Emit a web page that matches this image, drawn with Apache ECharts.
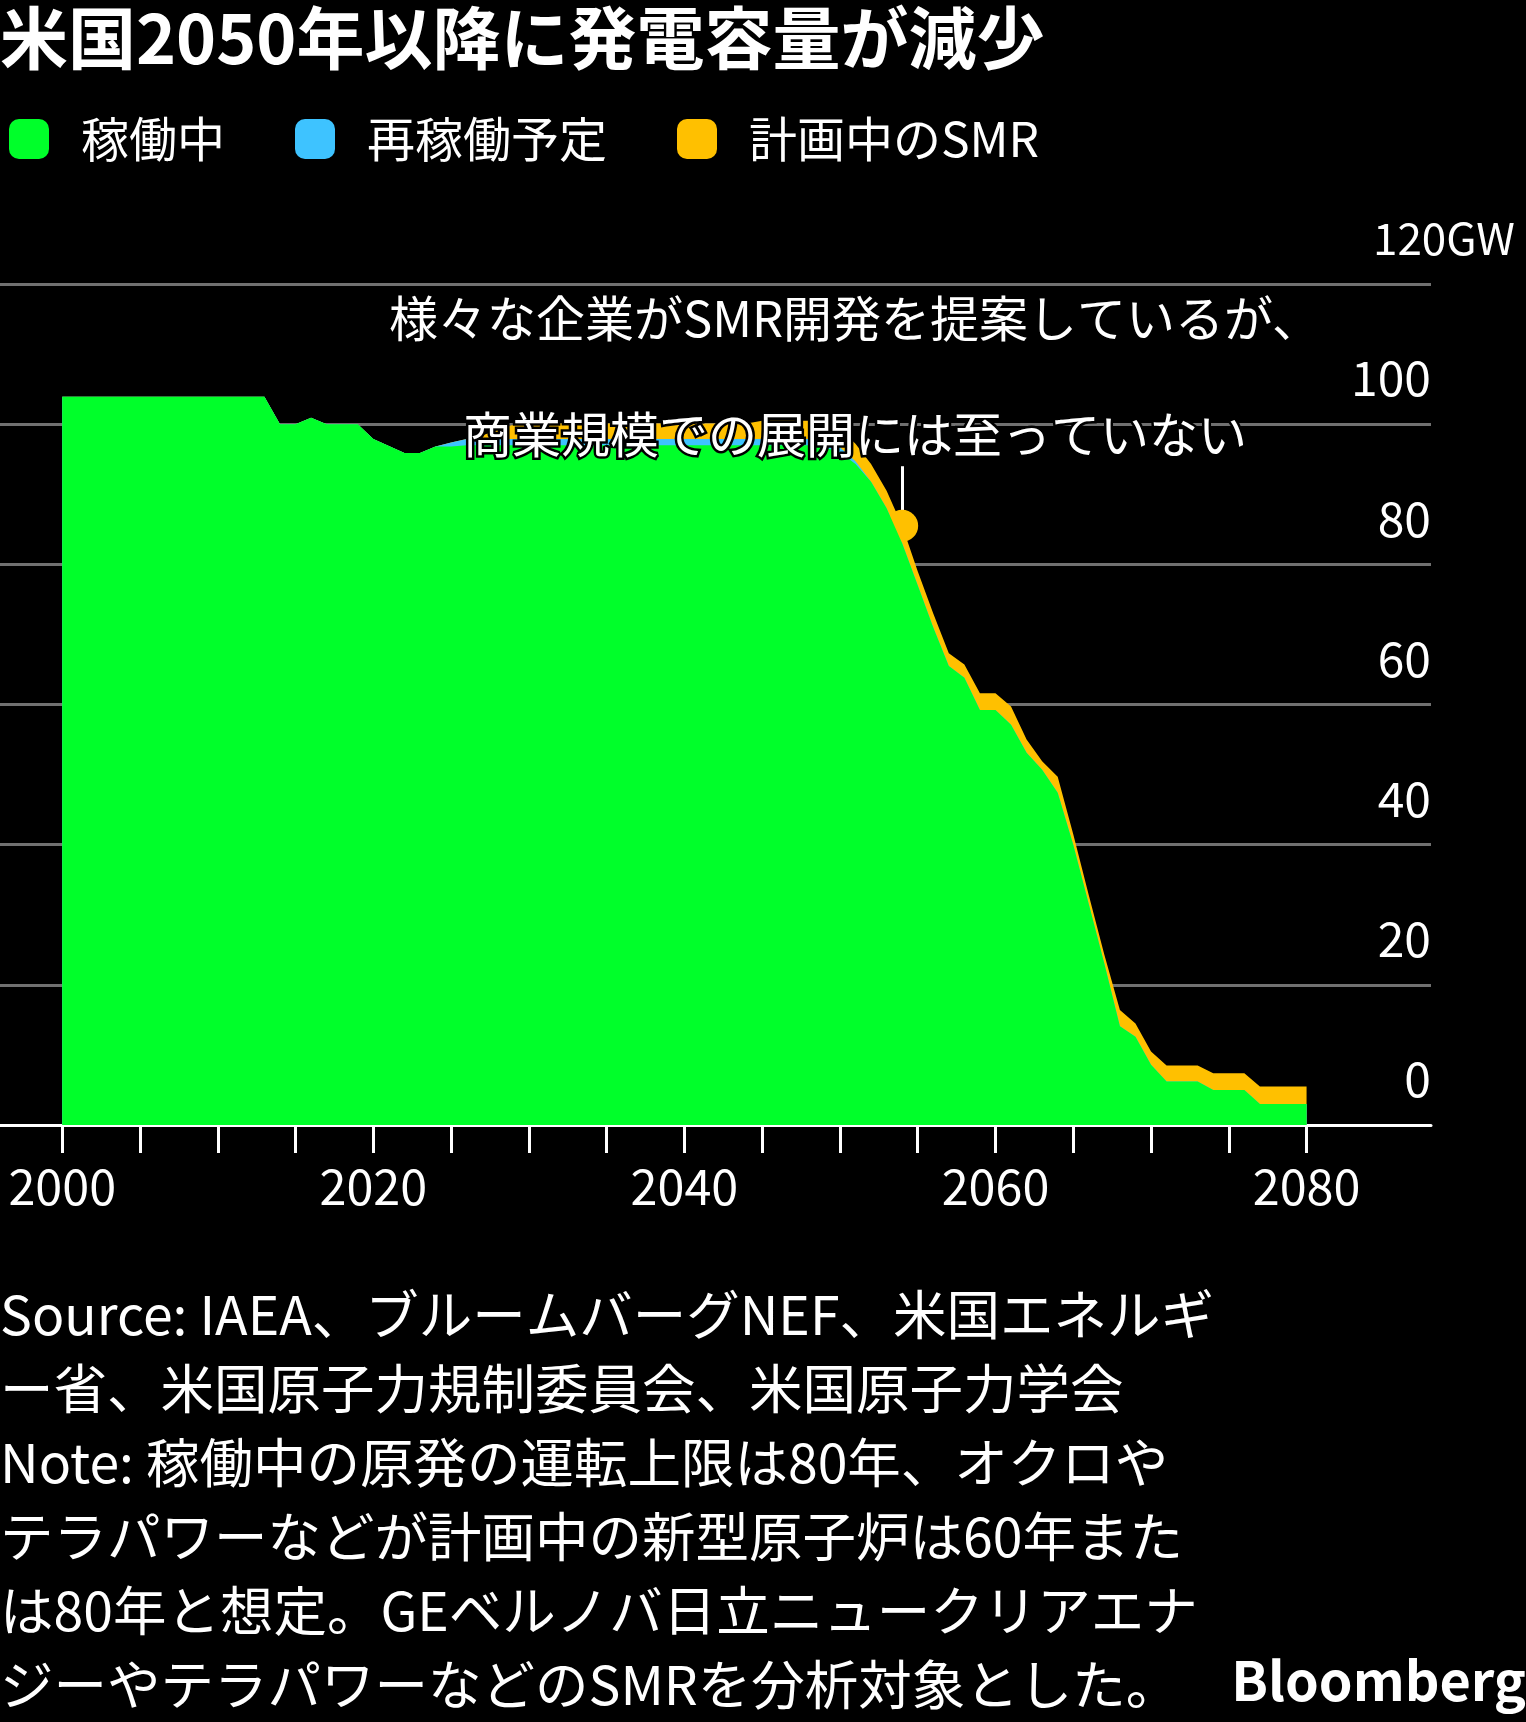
<!DOCTYPE html>
<html><head><meta charset="utf-8">
<script src="https://cdn.jsdelivr.net/npm/echarts@6/dist/echarts.min.js"></script>
<style>html,body{margin:0;padding:0;background:#000;}#c{width:1526px;height:1722px;}</style>
</head><body><div id="c"></div>
<script>
const years = [2000,2001,2002,2003,2004,2005,2006,2007,2008,2009,2010,2011,2012,2013,2014,2015,2016,2017,2018,2019,2020,2021,2022,2023,2024,2025,2026,2027,2028,2029,2030,2031,2032,2033,2034,2035,2036,2037,2038,2039,2040,2041,2042,2043,2044,2045,2046,2047,2048,2049,2050,2051,2052,2053,2054,2055,2056,2057,2058,2059,2060,2061,2062,2063,2064,2065,2066,2067,2068,2069,2070,2071,2072,2073,2074,2075,2076,2077,2078,2079,2080];
const operating = [103.9,103.9,103.9,103.9,103.9,103.9,103.9,103.9,103.9,103.9,103.9,103.9,103.9,103.9,100.0,100.0,100.9,100.0,100.0,100.0,97.9,96.9,95.9,95.9,96.8,96.8,97.0,97.0,97.0,97.0,97.0,97.0,97.0,97.0,97.0,97.0,97.0,97.0,97.0,97.0,97.0,97.0,97.0,97.0,97.0,97.0,97.0,97.0,97.0,96.7,96.0,94.3,91.8,88.0,83.0,77.0,71.0,65.5,63.8,59.2,59.2,57.1,53.1,50.7,47.4,40.0,31.5,23.0,14.1,12.6,8.6,6.2,6.2,6.2,5.0,5.0,5.0,3.0,3.0,3.0,3.0];
const restart = [0,0,0,0,0,0,0,0,0,0,0,0,0,0,0,0,0,0,0,0,0,0,0,0,0,0.6,0.9,0.9,0.9,0.9,0.9,0.9,0.9,0.9,0.9,0.9,0.9,0.9,0.9,0.9,0.9,0.9,0.9,0.9,0.9,0.9,0.9,0.9,0.9,0.9,0.7,0.4,0,0,0,0,0,0,0,0,0,0,0,0,0,0,0,0,0,0,0,0,0,0,0,0,0,0,0,0,0];
const smr = [0,0,0,0,0,0,0,0,0,0,0,0,0,0,0,0,0,0,0,0,0,0,0,0,0,0,0,0.5,1.3,2.0,2.2,2.2,2.2,2.2,2.2,2.2,2.2,2.2,2.2,2.2,2.2,2.2,2.2,2.2,2.2,2.6,2.6,2.6,2.6,2.6,2.6,2.5,2.5,2.5,2.5,2.0,2.0,1.8,1.9,2.4,2.4,2.6,1.9,1.2,2.3,1.5,1.3,1.3,2.3,1.9,1.9,2.3,2.3,2.3,2.4,2.4,2.4,2.5,2.5,2.5,2.5];
const seriesNames = ['稼働中','再稼働予定','計画中のSMR'];
const seriesColors = ['#00FF2A','#3EC3FF','#FFC000'];
const yTicks = [0,20,40,60,80,100,120];
const xTickYears = [2000,2005,2010,2015,2020,2025,2030,2035,2040,2045,2050,2055,2060,2065,2070,2075,2080];
const xLabelYears = [2000,2020,2040,2060,2080];
const markYear = 2054;
const title = '米国2050年以降に発電容量が減少';
const noteLines = ['様々な企業がSMR開発を提案しているが、','商業規模での展開には至っていない'];
const footLines = ['Source: IAEA、ブルームバーグNEF、米国エネルギ','ー省、米国原子力規制委員会、米国原子力学会','Note: 稼働中の原発の運転上限は80年、オクロや','テラパワーなどが計画中の新型原子炉は60年また','は80年と想定。GEベルノバ日立ニュークリアエナ','ジーやテラパワーなどのSMRを分析対象とした。'];

const FF = "'Noto Sans CJK JP','Noto Sans',sans-serif";
const chart = echarts.init(document.getElementById('c'), null, {renderer:'canvas'});
// cumulative tops of the stacked layers
const topOperating = operating.slice();
const topRestart = operating.map((v,i)=>v + restart[i]);
const topSmr = topRestart.map((v,i)=>v + smr[i]);
const layerTops = [topOperating, topRestart, topSmr];
const mi = years.indexOf(markYear);
const markTotal = topSmr[mi];
const pairs = arr => years.map((y,i)=>[y, arr[i]]);

const series = seriesNames.map((n,k)=>({
  name:n, type:'line', data:pairs(layerTops[k]),
  showSymbol:false, symbol:'none', color:seriesColors[k],
  lineStyle:{width:0, color:seriesColors[k]},
  itemStyle:{color:seriesColors[k]},
  areaStyle:{color:seriesColors[k], opacity:1, origin:'start'},
  emphasis:{disabled:true}, silent:true, z: 5 - k
}));
series[0].markLine = {
  silent:true, symbol:'none', animation:false,
  lineStyle:{color:'#fff', width:3, type:'solid'},
  label:{show:false},
  data:[[{coord:[markYear, 94.0]},{coord:[markYear, markTotal+1.3]}]]
};
series[0].markPoint = {
  silent:true, animation:false, symbol:'circle', symbolSize:32,
  itemStyle:{color:seriesColors[2]}, label:{show:false},
  data:[{coord:[markYear, markTotal]}]
};

const graphics = [];
noteLines.forEach((t,i)=>graphics.push({type:'text', x:855, y:[318,434][i], z:100,
  style:{text:t, fill:'#fff', font:'49px '+FF, textAlign:'center', textVerticalAlign:'middle', stroke:'#000', lineWidth:5}}));
footLines.forEach((t,i)=>graphics.push({type:'text', x:0, y:1315+i*74, z:100,
  style:{text:t, fill:'#fff', font:'53.5px '+FF, textAlign:'left', textVerticalAlign:'middle'}}));
graphics.push({type:'text', x:1526, y:1680, z:100,
  style:{text:'Bloomberg', fill:'#fff', font:'bold 54px '+FF, textAlign:'right', textVerticalAlign:'middle'}});

chart.setOption({
  backgroundColor:'#000',
  animation:false,
  title:{text:title, left:0, top:4, padding:0, textStyle:{color:'#fff', fontSize:68, fontWeight:'bold', fontFamily:FF}},
  legend:{left:9, top:115, padding:0, itemWidth:40, itemHeight:40, itemGap:70, icon:'roundRect', selectedMode:false,
    textStyle:{color:'#fff', fontSize:48, fontFamily:FF, padding:[0,0,0,27]}, data:seriesNames},
  grid:{left:0, right:95, top:284, bottom:597, containLabel:false},
  xAxis:{type:'value', min:1996, max:2088,
    axisLine:{show:true, lineStyle:{color:'#fff', width:3}},
    axisTick:{show:true, customValues:xTickYears, length:28, lineStyle:{color:'#fff', width:3}},
    axisLabel:{show:true, customValues:xLabelYears, color:'#fff', fontSize:48.5, fontFamily:FF, margin:37, formatter:v=>String(v)},
    splitLine:{show:false}},
  yAxis:{type:'value', position:'right', min:0, max:120, interval:20,
    axisLine:{show:false}, axisTick:{show:false},
    splitLine:{show:true, lineStyle:{color:'#707070', width:3}},
    axisLabel:{inside:true, color:'#fff', fontSize:48, fontFamily:FF, margin:0, align:'right',
      verticalAlign:'bottom', lineHeight:92, formatter:v=> v===120 ? '' : String(v)}},
  graphic:graphics,
  series:series
});
const y120 = chart.convertToPixel({yAxisIndex:0}, yTicks[yTicks.length-1]);
graphics.push({type:'text', x:1515, y:y120-46, z:100,
  style:{text:yTicks[yTicks.length-1]+'GW', fill:'#fff', font:'44px '+FF, textAlign:'right', textVerticalAlign:'middle'}});
chart.setOption({graphic:graphics});
</script></body></html>
